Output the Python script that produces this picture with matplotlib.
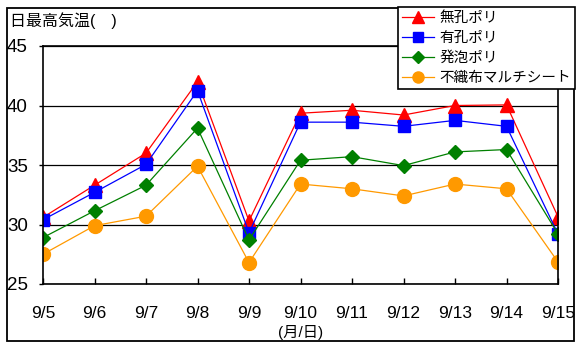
import matplotlib.pyplot as plt
from matplotlib.patches import Rectangle

plt.rcParams['font.family'] = ['Liberation Sans', 'Noto Sans CJK JP']

dates = ["9/5", "9/6", "9/7", "9/8", "9/9", "9/10", "9/11", "9/12", "9/13", "9/14", "9/15"]

# daily max temperature per mulch type
mukou_poly = [30.6, 33.3, 36.0, 42.0, 30.3, 39.35, 39.6, 39.2, 40.0, 40.05, 30.65]
yukou_poly = [30.4, 32.7, 35.05, 41.25, 29.3, 38.6, 38.6, 38.25, 38.75, 38.25, 29.2]
happou_poly = [28.9, 31.15, 33.3, 38.1, 28.7, 35.4, 35.7, 34.95, 36.1, 36.3, 29.2]
fushokufu = [27.5, 29.9, 30.7, 34.9, 26.8, 33.4, 33.0, 32.4, 33.4, 33.0, 26.85]

labels = ["無孔ポリ", "有孔ポリ", "発泡ポリ", "不織布マルチシート"]

fig = plt.figure(figsize=(5.76, 3.44), dpi=100)
ax = fig.add_axes([43/576, 1 - 284/344, (558 - 43)/576, (284 - 46)/344])

x = list(range(len(dates)))
ax.plot(x, mukou_poly, color="#FF0000", lw=0.9, marker="^", ms=10, label=labels[0])
ax.plot(x, yukou_poly, color="#0000FF", lw=0.9, marker="s", ms=9, label=labels[1])
ax.plot(x, happou_poly, color="#008000", lw=0.9, marker="D", ms=7.5, label=labels[2])
ax.plot(x, fushokufu, color="#FF9900", lw=0.9, marker="o", ms=10, label=labels[3])

ax.set_xlim(0, len(dates) - 1)
ax.set_ylim(25, 45)
ax.set_yticks([25, 30, 35, 40, 45])
ax.set_xticks(x)
ax.set_xticklabels(dates, fontsize=12.5)
ax.tick_params(axis='y', labelsize=13.5, direction='out', length=3, width=1, pad=8)
ax.tick_params(axis='x', direction='in', length=4, width=1, pad=16)
ax.yaxis.grid(True, color='black', lw=0.9)
ax.set_axisbelow(True)
for s in ax.spines.values():
    s.set_color('black')
    s.set_linewidth(1.2)

ax.set_xlabel("(月/日)", fontsize=11, labelpad=3)

fig.text(10/576, 1 - 21/344, "日最高気温(　)", fontsize=11.5, va='center', ha='left')

leg = fig.legend(loc='upper right', bbox_to_anchor=(575/576, 1 - 7/344), fontsize=10.5,
                 frameon=True, fancybox=False, edgecolor='black', framealpha=1,
                 markerscale=0.8, handlelength=2.2, borderpad=0.25, labelspacing=0.42,
                 handletextpad=0.4, borderaxespad=0)
leg.get_frame().set_linewidth(1.2)

# outer chart border
fig.patches.append(Rectangle((7/576, 1 - 341/344), (574 - 7)/576, (341 - 8)/344,
                             transform=fig.transFigure, fill=False, edgecolor='black',
                             lw=1.3, zorder=0))

fig.savefig("out.png", dpi=100)
